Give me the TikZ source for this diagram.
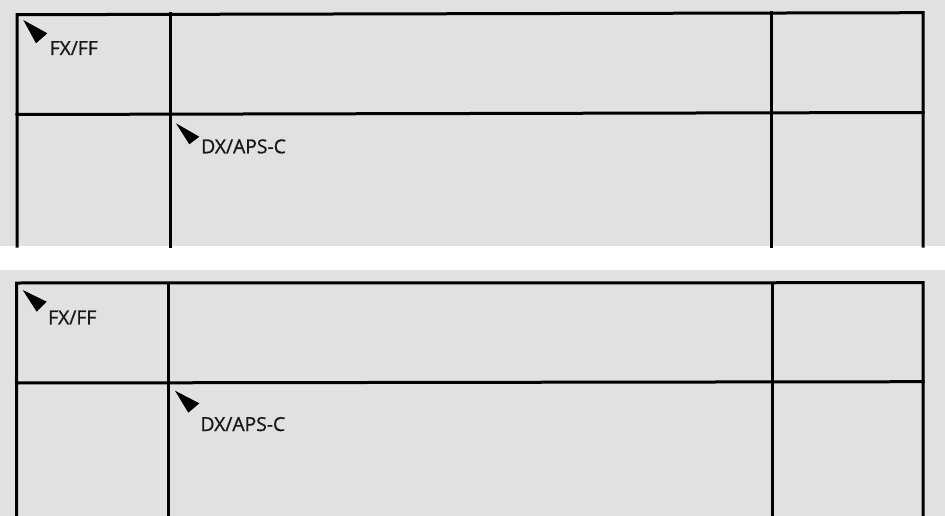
\documentclass[tikz,border=0pt]{standalone}
\usepackage{fontspec}
\setmainfont{Open Sans}
\newfontfamily\lblfont[FakeBold=1]{Open Sans}
\definecolor{panelgray}{HTML}{E1E1E1}
\tikzset{
  gridline/.style={line width=3pt, black, line cap=rect},
  marker/.style={fill=black, draw=none},
  lbl/.style={anchor=base west, inner sep=0pt, font=\lblfont\fontsize{19.3pt}{21pt}\selectfont, text=black!90}
}
\begin{document}
\begin{tikzpicture}[x=1pt,y=-1pt]
\useasboundingbox (0,0) rectangle (945,516);
\fill[white] (0,0) rectangle (945,516);
% panels
\fill[panelgray] (0,0) rectangle (945,246);
\fill[panelgray] (0,270) rectangle (945,516);
% top panel grid
\draw[gridline] (17,246) -- (17,14.7) -- (923,12.7) -- (923,246);
\draw[gridline] (17,114.5) -- (923,112.5);
\draw[gridline] (170,14) -- (170,246);
\draw[gridline] (771.5,13) -- (771.5,246);
% bottom panel grid
\draw[gridline] (16.5,516) -- (16.5,283) -- (923,282.7) -- (923,516);
\draw[gridline] (16.5,383) -- (923,381.7);
\draw[gridline] (168.7,283) -- (168.7,516);
\draw[gridline] (772.5,283) -- (772.5,516);
% markers and labels, top
\fill[marker] (23.3,20) -- (47.3,33.3) -- (36,43.3) -- cycle;
\node[lbl] (fxa) at (49.5,55) {FX/FF};
\fill[marker] (176,123.3) -- (199.3,136.7) -- (189.3,144.3) -- cycle;
\node[lbl] (dxa) at (201,153.3) {DX/APS-C};
% markers and labels, bottom
\fill[marker] (22.7,290) -- (46.7,301.7) -- (36.7,311.7) -- cycle;
\node[lbl] (fxb) at (48,324.3) {FX/FF};
\fill[marker] (175,390.7) -- (199.3,403.3) -- (188.3,412.7) -- cycle;
\node[lbl] (dxb) at (200.3,431) {DX/APS-C};
\end{tikzpicture}
\end{document}
